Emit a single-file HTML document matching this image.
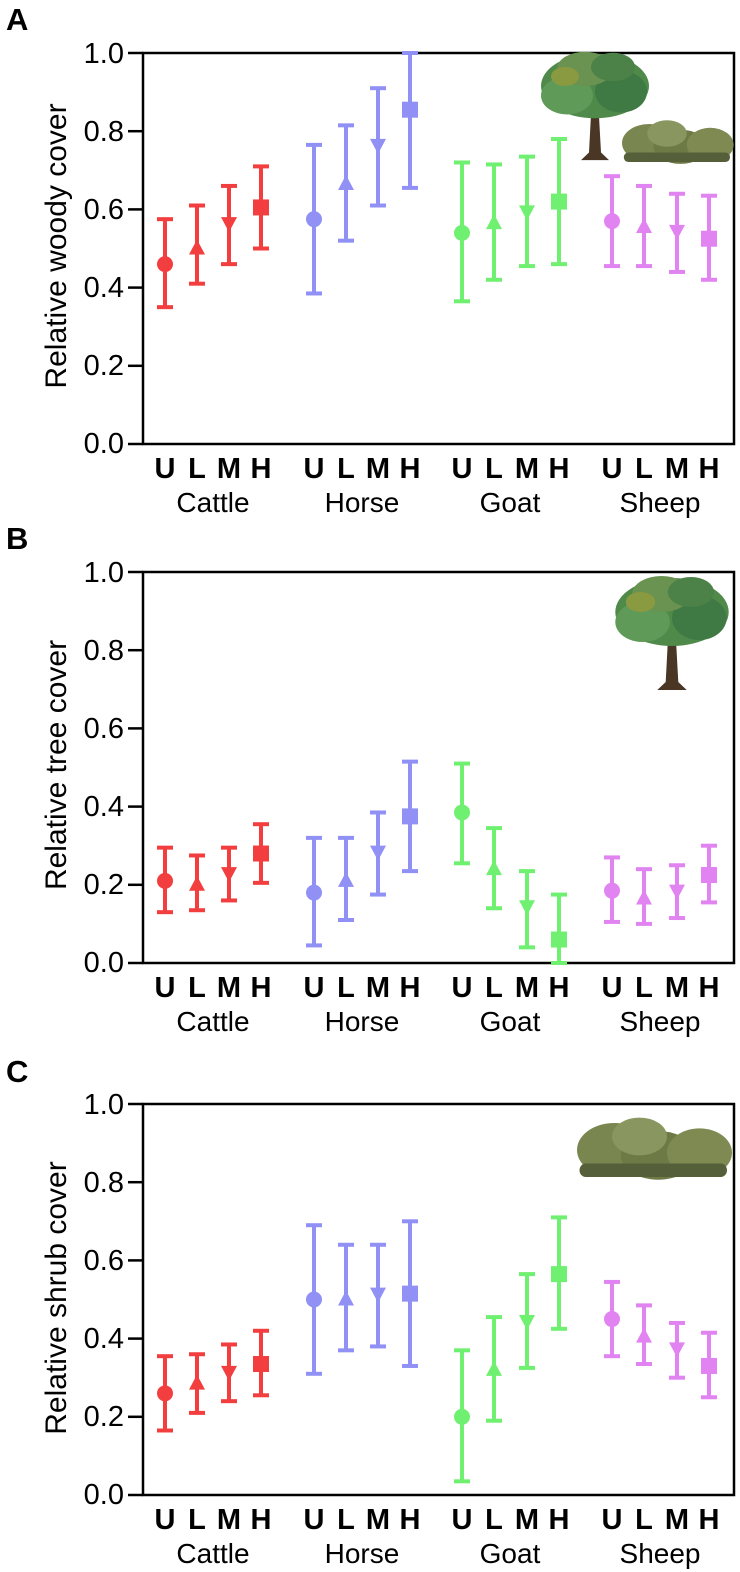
<!DOCTYPE html>
<html><head><meta charset="utf-8"><style>
html,body{margin:0;padding:0;background:#fff}
svg{display:block}
text{font-family:"Liberation Sans",Arial,sans-serif;fill:#000}
.t{font-size:29px;text-anchor:end}
.l{font-size:29px;font-weight:bold;text-anchor:middle}
.s{font-size:28px;text-anchor:middle}
.p{font-size:31px;font-weight:bold}
.y{font-size:30px;text-anchor:middle}
</style></head><body>
<svg id="s" width="740" height="1572" viewBox="0 0 740 1572" xmlns="http://www.w3.org/2000/svg">
<defs>
<g id="tree">
<path d="M-6,30 L-4,-10 L-14,-30 L-10,-32 L0,-14 L8,-34 L12,-32 L4,-8 L6,30 L14,38 L-14,38 Z" fill="#4a3624"/>
<ellipse cx="0" cy="-40" rx="54" ry="34" fill="#4f8a4a"/>
<ellipse cx="-28" cy="-30" rx="26" ry="20" fill="#5f9a58"/>
<ellipse cx="26" cy="-34" rx="26" ry="22" fill="#3f7a44"/>
<ellipse cx="-10" cy="-58" rx="28" ry="18" fill="#6a9250"/>
<ellipse cx="18" cy="-60" rx="22" ry="15" fill="#4c8248"/>
<ellipse cx="-30" cy="-50" rx="14" ry="10" fill="#8a9a40"/>
</g>
<g id="bush">
<ellipse cx="-30" cy="0" rx="30" ry="20" fill="#7a8650"/>
<ellipse cx="5" cy="4" rx="30" ry="18" fill="#6e7a46"/>
<ellipse cx="38" cy="2" rx="26" ry="18" fill="#7e8a52"/>
<ellipse cx="-10" cy="-10" rx="22" ry="14" fill="#8a9660"/>
<rect x="-58" y="10" width="118" height="10" rx="5" fill="#55603a"/>
</g>
</defs>
<g id="A"></g><g id="B"></g><g id="C"></g>
<use href="#tree" transform="translate(595,124) scale(1,0.95)"/>
<use href="#bush" transform="translate(676,143) scale(0.9,0.95)"/>
<use href="#tree" transform="translate(672,652) scale(1.05,1.0)"/>
<use href="#bush" transform="translate(652,1150) scale(1.25,1.35)"/>
<text class="p" x="6" y="30">A</text>
<text class="p" x="6" y="549">B</text>
<text class="p" x="6" y="1082">C</text>
<text class="y" transform="translate(66,246) rotate(-90)">Relative woody cover</text>
<text class="y" transform="translate(66,765) rotate(-90)">Relative tree cover</text>
<text class="y" transform="translate(66,1298) rotate(-90)">Relative shrub cover</text>
<g>
<text class="t" x="124" y="63">1.0</text><text class="t" x="124" y="141">0.8</text><text class="t" x="124" y="219">0.6</text><text class="t" x="124" y="297">0.4</text><text class="t" x="124" y="375">0.2</text><text class="t" x="124" y="453">0.0</text>
<text class="t" x="124" y="582">1.0</text><text class="t" x="124" y="660">0.8</text><text class="t" x="124" y="738">0.6</text><text class="t" x="124" y="816">0.4</text><text class="t" x="124" y="894">0.2</text><text class="t" x="124" y="972">0.0</text>
<text class="t" x="124" y="1114">1.0</text><text class="t" x="124" y="1192">0.8</text><text class="t" x="124" y="1270">0.6</text><text class="t" x="124" y="1348">0.4</text><text class="t" x="124" y="1426">0.2</text><text class="t" x="124" y="1504">0.0</text>
</g>
<g>
<text class="l" x="165" y="478">U</text><text class="l" x="197" y="478">L</text><text class="l" x="229" y="478">M</text><text class="l" x="261" y="478">H</text>
<text class="l" x="314" y="478">U</text><text class="l" x="346" y="478">L</text><text class="l" x="378" y="478">M</text><text class="l" x="410" y="478">H</text>
<text class="l" x="462" y="478">U</text><text class="l" x="494" y="478">L</text><text class="l" x="527" y="478">M</text><text class="l" x="559" y="478">H</text>
<text class="l" x="612" y="478">U</text><text class="l" x="644" y="478">L</text><text class="l" x="677" y="478">M</text><text class="l" x="709" y="478">H</text>
<text class="s" x="213" y="512">Cattle</text><text class="s" x="362" y="512">Horse</text><text class="s" x="510" y="512">Goat</text><text class="s" x="660" y="512">Sheep</text>
<text class="l" x="165" y="997">U</text><text class="l" x="197" y="997">L</text><text class="l" x="229" y="997">M</text><text class="l" x="261" y="997">H</text>
<text class="l" x="314" y="997">U</text><text class="l" x="346" y="997">L</text><text class="l" x="378" y="997">M</text><text class="l" x="410" y="997">H</text>
<text class="l" x="462" y="997">U</text><text class="l" x="494" y="997">L</text><text class="l" x="527" y="997">M</text><text class="l" x="559" y="997">H</text>
<text class="l" x="612" y="997">U</text><text class="l" x="644" y="997">L</text><text class="l" x="677" y="997">M</text><text class="l" x="709" y="997">H</text>
<text class="s" x="213" y="1031">Cattle</text><text class="s" x="362" y="1031">Horse</text><text class="s" x="510" y="1031">Goat</text><text class="s" x="660" y="1031">Sheep</text>
<text class="l" x="165" y="1529">U</text><text class="l" x="197" y="1529">L</text><text class="l" x="229" y="1529">M</text><text class="l" x="261" y="1529">H</text>
<text class="l" x="314" y="1529">U</text><text class="l" x="346" y="1529">L</text><text class="l" x="378" y="1529">M</text><text class="l" x="410" y="1529">H</text>
<text class="l" x="462" y="1529">U</text><text class="l" x="494" y="1529">L</text><text class="l" x="527" y="1529">M</text><text class="l" x="559" y="1529">H</text>
<text class="l" x="612" y="1529">U</text><text class="l" x="644" y="1529">L</text><text class="l" x="677" y="1529">M</text><text class="l" x="709" y="1529">H</text>
<text class="s" x="213" y="1563">Cattle</text><text class="s" x="362" y="1563">Horse</text><text class="s" x="510" y="1563">Goat</text><text class="s" x="660" y="1563">Sheep</text>
</g>
</svg>
<script>
var NS="http://www.w3.org/2000/svg";
var X=[165,197,229,261,314,346,378,410,462,494,527,559,612,644,677,709];
var COL=["#f23e3e","#9090f5","#70f070","#e283f2"];
var D={
A:{top:53,bot:444,d:[[.46,.35,.575],[.5,.41,.61],[.565,.46,.66],[.605,.5,.71],[.575,.385,.765],[.665,.52,.815],[.765,.61,.91],[.855,.655,1],[.54,.365,.72],[.565,.42,.715],[.595,.455,.735],[.62,.46,.78],[.57,.455,.685],[.555,.455,.66],[.545,.44,.64],[.525,.42,.635]]},
B:{top:572,bot:963,d:[[.21,.13,.295],[.2,.135,.275],[.23,.16,.295],[.28,.205,.355],[.18,.045,.32],[.21,.11,.32],[.285,.175,.385],[.375,.235,.515],[.385,.255,.51],[.24,.14,.345],[.145,.04,.235],[.06,0,.175],[.185,.105,.27],[.165,.1,.24],[.185,.115,.25],[.225,.155,.3]]},
C:{top:1104,bot:1495,d:[[.26,.165,.355],[.285,.21,.36],[.315,.24,.385],[.335,.255,.42],[.5,.31,.69],[.5,.37,.64],[.515,.38,.64],[.515,.33,.7],[.2,.035,.37],[.32,.19,.455],[.445,.325,.565],[.565,.425,.71],[.45,.355,.545],[.405,.335,.485],[.375,.3,.44],[.33,.25,.415]]}};
function el(g,t,a){var e=document.createElementNS(NS,t);for(var k in a)e.setAttribute(k,a[k]);g.appendChild(e);return e;}
for(var p in D){var P=D[p],g=document.getElementById(p),h=P.bot-P.top;
function Y(v){return P.bot-v*h;}
el(g,"rect",{x:143,y:P.top,width:591,height:h,fill:"none",stroke:"#000","stroke-width":2.5});
for(var i=0;i<=5;i++){var yy=Y(i*0.2);el(g,"line",{x1:128,x2:143,y1:yy,y2:yy,stroke:"#000","stroke-width":2.5});}
P.d.forEach(function(r,i){var c=COL[Math.floor(i/4)],x=X[i],m=i%4,y=Y(r[0]),lo=Y(r[1]),hi=Y(r[2]);
var a={stroke:c,"stroke-width":4};
el(g,"line",Object.assign({x1:x,x2:x,y1:lo,y2:hi},a));
el(g,"line",Object.assign({x1:x-8,x2:x+8,y1:lo,y2:lo},a));
el(g,"line",Object.assign({x1:x-8,x2:x+8,y1:hi,y2:hi},a));
if(m==0)el(g,"circle",{cx:x,cy:y,r:8,fill:c});
else if(m==1)el(g,"polygon",{points:(x-8)+","+(y+6)+" "+(x+8)+","+(y+6)+" "+x+","+(y-9),fill:c});
else if(m==2)el(g,"polygon",{points:(x-8)+","+(y-6)+" "+(x+8)+","+(y-6)+" "+x+","+(y+9),fill:c});
else el(g,"rect",{x:x-8,y:y-8,width:16,height:16,fill:c});
});}
</script>
</body></html>
